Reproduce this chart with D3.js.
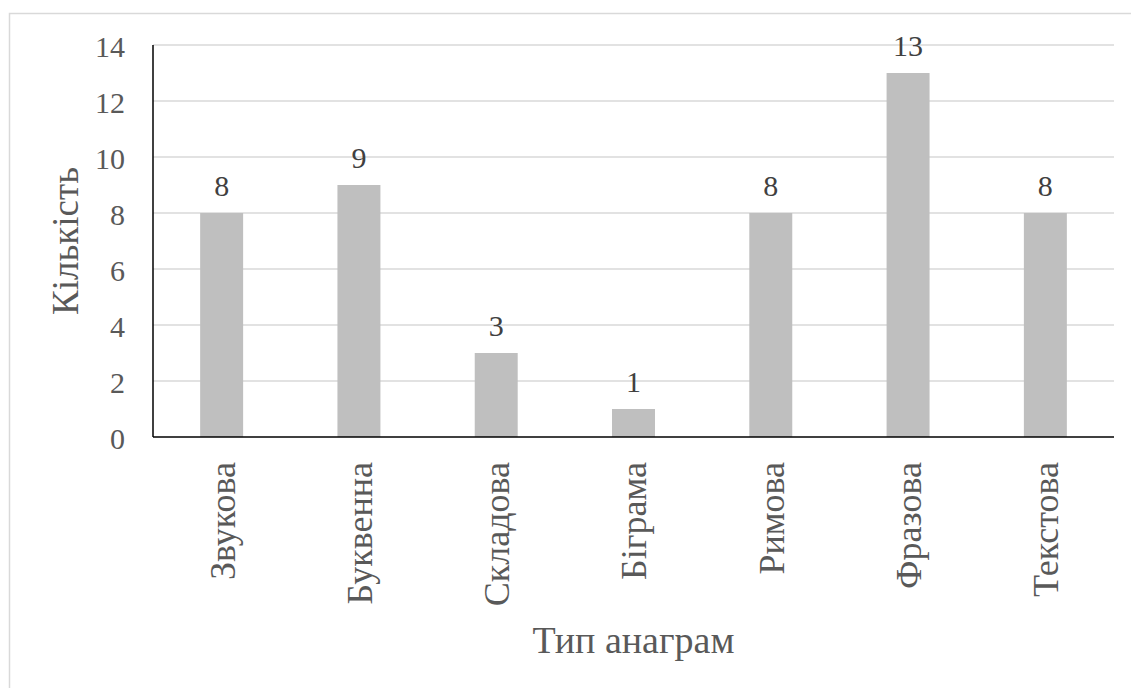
<!DOCTYPE html>
<html>
<head>
<meta charset="utf-8">
<script src="https://cdn.jsdelivr.net/npm/d3@7"></script>
<style>
  html, body { margin: 0; padding: 0; background: #fff; }
  svg { display: block; }
  svg text { font-family: "Liberation Serif", "Times New Roman", serif !important; }
</style>
</head>
<body>
<svg id="chart" width="1131" height="688"></svg>
<script>
// Anagram types and how many of each were found
const categories = ["Звукова", "Буквенна", "Складова", "Біграма", "Римова", "Фразова", "Текстова"];
const counts = [8, 9, 3, 1, 8, 13, 8];
const yTicks = [0, 2, 4, 6, 8, 10, 12, 14];
const xTitle = "Тип анаграм";
const yTitle = "Кількість";

const W = 1131, H = 688;
const plot = { left: 153, right: 1114, top: 45, bottom: 437 };
const serif = "'Liberation Serif', 'Times New Roman', serif";
const tickSize = 30, catSize = 36, xTitleSize = 38, yTitleSize = 37;

const svg = d3.select("#chart");

// outer chart frame (bottom and right edges run off the canvas)
svg.append("rect")
  .attr("x", 9.5).attr("y", 13.5)
  .attr("width", W + 10).attr("height", H + 10)
  .attr("fill", "#fff")
  .attr("stroke", "#d9d9d9").attr("stroke-width", 1.5);

const x = d3.scaleBand()
  .domain(categories)
  .range([plot.left, plot.right])
  .paddingInner(0.687)
  .paddingOuter(0.3435);

const y = d3.scaleLinear()
  .domain([0, 14])
  .range([plot.bottom, plot.top]);

// horizontal gridlines
svg.append("g")
  .selectAll("line")
  .data(yTicks.filter(t => t > 0))
  .join("line")
  .attr("x1", plot.left).attr("x2", plot.right)
  .attr("y1", d => y(d)).attr("y2", d => y(d))
  .attr("stroke", "#d9d9d9").attr("stroke-width", 1.5);

// bars
svg.append("g")
  .selectAll("rect")
  .data(counts)
  .join("rect")
  .attr("x", (d, i) => x(categories[i]))
  .attr("width", x.bandwidth())
  .attr("y", d => y(d))
  .attr("height", d => y(0) - y(d))
  .attr("fill", "#bfbfbf");

// value labels above bars
svg.append("g")
  .selectAll("text")
  .data(counts)
  .join("text")
  .attr("x", (d, i) => x(categories[i]) + x.bandwidth() / 2)
  .attr("y", d => y(d) - 17)
  .attr("text-anchor", "middle")
  .attr("font-family", serif)
  .attr("font-size", tickSize)
  .attr("fill", "#404040")
  .text(d => d);

// y axis: labels and line
const yAxis = d3.axisLeft(y).tickValues(yTicks).tickSize(0).tickPadding(28);
const gy = svg.append("g")
  .attr("transform", `translate(${plot.left},0)`)
  .call(yAxis);
gy.select(".domain").remove();
gy.attr("font-family", serif).attr("font-size", tickSize);
gy.selectAll("text")
  .attr("font-family", serif)
  .attr("font-size", tickSize)
  .attr("fill", "#595959")
  .attr("dy", "0.38em");

svg.append("line")
  .attr("x1", plot.left).attr("x2", plot.left)
  .attr("y1", plot.top).attr("y2", plot.bottom)
  .attr("stroke", "#000").attr("stroke-width", 1.5);

// x axis line and rotated category labels
svg.append("line")
  .attr("x1", plot.left).attr("x2", plot.right)
  .attr("y1", plot.bottom).attr("y2", plot.bottom)
  .attr("stroke", "#000").attr("stroke-width", 1.5);

const xAxis = d3.axisBottom(x).tickSize(0).tickPadding(0);
const gx = svg.append("g")
  .attr("transform", `translate(0,${plot.bottom})`)
  .call(xAxis);
gx.select(".domain").remove();
gx.attr("font-family", serif).attr("font-size", catSize);
gx.selectAll("text")
  .attr("font-family", serif)
  .attr("font-size", catSize)
  .attr("fill", "#595959")
  .attr("text-anchor", "end")
  .attr("transform", "translate(0,25) rotate(-90)")
  .attr("x", 0).attr("y", 0).attr("dy", "0.36em");

// axis titles
svg.append("text")
  .attr("x", (plot.left + plot.right) / 2)
  .attr("y", 653)
  .attr("text-anchor", "middle")
  .attr("font-family", serif)
  .attr("font-size", xTitleSize)
  .attr("fill", "#595959")
  .text(xTitle);

svg.append("text")
  .attr("transform", `translate(78,${(plot.top + plot.bottom) / 2}) rotate(-90)`)
  .attr("text-anchor", "middle")
  .attr("font-family", serif)
  .attr("font-size", yTitleSize)
  .attr("fill", "#595959")
  .text(yTitle);
</script>
</body>
</html>
